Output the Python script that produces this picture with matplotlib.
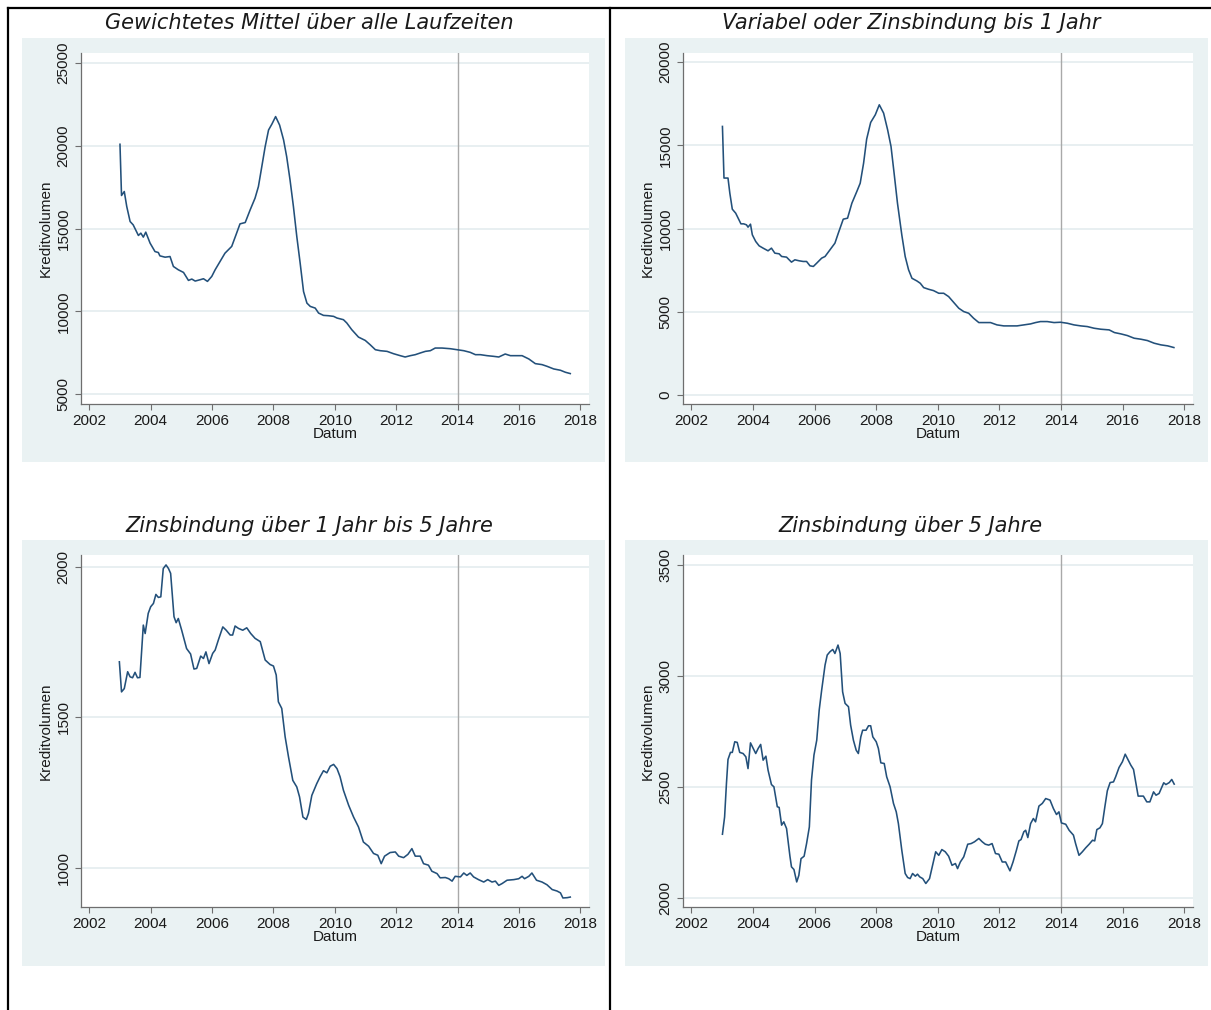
import matplotlib
matplotlib.use("Agg")
import matplotlib.pyplot as plt
from matplotlib.patches import Rectangle
from matplotlib.lines import Line2D

# ---------------------------------------------------------------------------
# Kreditvolumen (Neugeschäft) nach Zinsbindung, monatlich 2003-2017
# ---------------------------------------------------------------------------
titles = [
    "Gewichtetes Mittel über alle Laufzeiten",
    "Variabel oder Zinsbindung bis 1 Jahr",
    "Zinsbindung über 1 Jahr bis 5 Jahre",
    "Zinsbindung über 5 Jahre",
]
x_ticks = [2002, 2004, 2006, 2008, 2010, 2012, 2014, 2016, 2018]
x_label = "Datum"
y_label = "Kreditvolumen"
marker_year = 2014

# Gewichtetes Mittel über alle Laufzeiten
dates_all = [
    2003.00, 2003.05, 2003.14, 2003.22, 2003.33, 2003.43, 2003.60, 2003.68, 2003.76, 2003.84,
    2003.98, 2004.14, 2004.25, 2004.30, 2004.47, 2004.63, 2004.74, 2004.90, 2005.07, 2005.23,
    2005.34, 2005.45, 2005.61, 2005.72, 2005.85, 2005.99, 2006.10, 2006.26, 2006.42, 2006.64,
    2006.78, 2006.91, 2007.08, 2007.24, 2007.40, 2007.51, 2007.62, 2007.73, 2007.84, 2007.95,
    2008.07, 2008.20, 2008.33, 2008.43, 2008.54, 2008.65, 2008.76, 2008.87, 2008.98, 2009.09,
    2009.20, 2009.36, 2009.47, 2009.63, 2009.79, 2009.96, 2010.07, 2010.28, 2010.39, 2010.55,
    2010.77, 2010.99, 2011.15, 2011.32, 2011.48, 2011.70, 2011.91, 2012.13, 2012.29, 2012.46,
    2012.62, 2012.78, 2012.95, 2013.11, 2013.27, 2013.49, 2013.76, 2013.98, 2014.20, 2014.41,
    2014.58, 2014.74, 2014.96, 2015.17, 2015.34, 2015.55, 2015.72, 2015.93, 2016.10, 2016.32,
    2016.53, 2016.75, 2016.91, 2017.13, 2017.35, 2017.51, 2017.67,
]
volume_all = [
    20080, 16990, 17230, 16330, 15420, 15220, 14580, 14720, 14480, 14780,
    14120, 13610, 13550, 13350, 13270, 13310, 12710, 12510, 12350, 11870,
    11950, 11830, 11910, 11970, 11810, 12110, 12510, 13010, 13510, 13920,
    14620, 15280, 15360, 16120, 16830, 17530, 18730, 19940, 20940, 21300,
    21750, 21240, 20340, 19340, 17930, 16330, 14520, 12910, 11200, 10500,
    10300, 10200, 9900, 9760, 9740, 9700, 9600, 9500, 9300, 8900,
    8450, 8250, 7990, 7690, 7630, 7590, 7450, 7330, 7250, 7330,
    7390, 7490, 7590, 7630, 7790, 7790, 7750, 7690, 7630, 7530,
    7390, 7390, 7330, 7290, 7250, 7430, 7330, 7330, 7330, 7130,
    6850, 6790, 6690, 6530, 6450, 6330, 6250,
]

# Variabel oder Zinsbindung bis 1 Jahr
dates_short = [
    2003.01, 2003.06, 2003.19, 2003.25, 2003.33, 2003.44, 2003.52, 2003.61, 2003.70, 2003.79,
    2003.84, 2003.92, 2003.98, 2004.09, 2004.20, 2004.33, 2004.49, 2004.60, 2004.71, 2004.85,
    2004.93, 2005.09, 2005.25, 2005.36, 2005.50, 2005.63, 2005.74, 2005.85, 2005.96, 2006.07,
    2006.23, 2006.34, 2006.50, 2006.66, 2006.77, 2006.93, 2007.07, 2007.21, 2007.37, 2007.48,
    2007.59, 2007.69, 2007.82, 2007.97, 2008.10, 2008.24, 2008.37, 2008.48, 2008.58, 2008.69,
    2008.83, 2008.94, 2009.05, 2009.16, 2009.32, 2009.43, 2009.54, 2009.70, 2009.86, 2010.03,
    2010.19, 2010.35, 2010.51, 2010.68, 2010.84, 2011.00, 2011.16, 2011.33, 2011.54, 2011.71,
    2011.92, 2012.14, 2012.36, 2012.57, 2012.79, 2013.01, 2013.17, 2013.33, 2013.55, 2013.77,
    2013.98, 2014.20, 2014.42, 2014.64, 2014.85, 2015.07, 2015.29, 2015.56, 2015.73, 2015.94,
    2016.15, 2016.37, 2016.59, 2016.80, 2017.02, 2017.24, 2017.46, 2017.66,
]
volume_short = [
    16130, 13030, 13030, 12120, 11160, 10920, 10620, 10280, 10280, 10220,
    10080, 10260, 9620, 9220, 8960, 8820, 8660, 8820, 8520, 8480,
    8320, 8280, 7980, 8120, 8060, 8020, 8020, 7760, 7720, 7920,
    8220, 8320, 8720, 9120, 9720, 10560, 10620, 11520, 12220, 12720,
    13920, 15370, 16370, 16830, 17430, 16930, 15930, 14930, 13330, 11520,
    9620, 8320, 7520, 7010, 6850, 6710, 6450, 6350, 6270, 6110,
    6110, 5910, 5570, 5210, 5010, 4910, 4610, 4350, 4350, 4350,
    4210, 4150, 4150, 4150, 4210, 4270, 4350, 4410, 4410, 4350,
    4370, 4310, 4210, 4150, 4110, 4010, 3950, 3910, 3750, 3670,
    3570, 3410, 3350, 3270, 3110, 3010, 2950, 2850,
]

# Zinsbindung über 1 Jahr bis 5 Jahre
dates_mid = [
    2002.98, 2003.05, 2003.14, 2003.25, 2003.33, 2003.41, 2003.49, 2003.57, 2003.65, 2003.76,
    2003.82, 2003.92, 2004.00, 2004.09, 2004.17, 2004.25, 2004.33, 2004.41, 2004.50, 2004.58,
    2004.65, 2004.76, 2004.83, 2004.90, 2005.01, 2005.17, 2005.30, 2005.41, 2005.50, 2005.63,
    2005.72, 2005.80, 2005.90, 2006.02, 2006.10, 2006.21, 2006.35, 2006.46, 2006.59, 2006.67,
    2006.75, 2006.86, 2007.00, 2007.13, 2007.26, 2007.40, 2007.57, 2007.73, 2007.89, 2008.00,
    2008.09, 2008.16, 2008.27, 2008.38, 2008.49, 2008.63, 2008.76, 2008.85, 2008.96, 2009.07,
    2009.14, 2009.25, 2009.41, 2009.52, 2009.63, 2009.74, 2009.85, 2009.96, 2010.07, 2010.17,
    2010.28, 2010.45, 2010.61, 2010.77, 2010.93, 2011.10, 2011.26, 2011.40, 2011.51, 2011.62,
    2011.80, 2011.97, 2012.08, 2012.24, 2012.38, 2012.51, 2012.62, 2012.78, 2012.89, 2013.05,
    2013.16, 2013.33, 2013.43, 2013.60, 2013.71, 2013.82, 2013.92, 2014.09, 2014.20, 2014.30,
    2014.41, 2014.52, 2014.68, 2014.85, 2014.98, 2015.12, 2015.23, 2015.34, 2015.45, 2015.61,
    2015.83, 2015.99, 2016.10, 2016.18, 2016.32, 2016.42, 2016.57, 2016.75, 2016.91, 2017.08,
    2017.24, 2017.35, 2017.43, 2017.57, 2017.67,
]
volume_mid = [
    1684, 1584, 1595, 1651, 1634, 1631, 1649, 1631, 1632, 1806,
    1778, 1845, 1867, 1878, 1908, 1898, 1900, 1994, 2006, 1994,
    1978, 1834, 1814, 1828, 1789, 1728, 1710, 1660, 1662, 1703,
    1695, 1717, 1678, 1712, 1723, 1758, 1800, 1789, 1773, 1773,
    1803, 1795, 1789, 1797, 1778, 1762, 1751, 1690, 1675, 1670,
    1640, 1551, 1529, 1435, 1368, 1290, 1268, 1235, 1168, 1160,
    1180, 1240, 1279, 1302, 1322, 1315, 1337, 1343, 1329, 1302,
    1257, 1207, 1168, 1135, 1085, 1071, 1047, 1041, 1013, 1038,
    1050, 1052, 1038, 1033, 1044, 1063, 1038, 1038, 1013, 1008,
    988, 980, 966, 967, 963, 955, 971, 969, 982, 974,
    982, 969, 960, 952, 960, 952, 955, 941, 947, 958,
    960, 963, 971, 963, 971, 982, 958, 952, 943, 927,
    922, 916, 899, 900, 902,
]

# Zinsbindung über 5 Jahre
dates_long = [
    2003.01, 2003.08, 2003.14, 2003.19, 2003.27, 2003.33, 2003.41, 2003.49, 2003.57, 2003.68,
    2003.77, 2003.84, 2003.92, 2004.01, 2004.09, 2004.17, 2004.25, 2004.33, 2004.42, 2004.49,
    2004.60, 2004.68, 2004.79, 2004.85, 2004.93, 2005.00, 2005.09, 2005.15, 2005.20, 2005.25,
    2005.33, 2005.42, 2005.49, 2005.56, 2005.66, 2005.74, 2005.83, 2005.90, 2005.98, 2006.07,
    2006.15, 2006.23, 2006.34, 2006.41, 2006.50, 2006.59, 2006.66, 2006.72, 2006.76, 2006.83,
    2006.91, 2006.99, 2007.10, 2007.17, 2007.26, 2007.35, 2007.42, 2007.50, 2007.56, 2007.67,
    2007.75, 2007.82, 2007.89, 2008.00, 2008.07, 2008.15, 2008.26, 2008.34, 2008.45, 2008.56,
    2008.65, 2008.72, 2008.83, 2008.94, 2009.02, 2009.10, 2009.18, 2009.27, 2009.34, 2009.41,
    2009.51, 2009.61, 2009.73, 2009.83, 2009.93, 2010.03, 2010.13, 2010.24, 2010.35, 2010.46,
    2010.57, 2010.64, 2010.73, 2010.84, 2010.97, 2011.08, 2011.19, 2011.33, 2011.44, 2011.54,
    2011.65, 2011.76, 2011.87, 2011.98, 2012.09, 2012.20, 2012.34, 2012.44, 2012.55, 2012.63,
    2012.70, 2012.79, 2012.85, 2012.92, 2013.01, 2013.10, 2013.17, 2013.28, 2013.39, 2013.50,
    2013.64, 2013.75, 2013.85, 2013.93, 2014.01, 2014.15, 2014.26, 2014.40, 2014.47, 2014.58,
    2014.69, 2014.80, 2014.91, 2015.02, 2015.09, 2015.16, 2015.26, 2015.34, 2015.42, 2015.50,
    2015.59, 2015.70, 2015.77, 2015.88, 2015.99, 2016.08, 2016.15, 2016.26, 2016.35, 2016.43,
    2016.50, 2016.67, 2016.78, 2016.88, 2017.00, 2017.08, 2017.18, 2017.33, 2017.40, 2017.51,
    2017.59, 2017.67,
]
volume_long = [
    2287, 2365, 2516, 2624, 2656, 2656, 2704, 2701, 2656, 2651,
    2636, 2583, 2699, 2674, 2651, 2674, 2692, 2621, 2639, 2576,
    2511, 2501, 2411, 2408, 2328, 2343, 2313, 2245, 2188, 2140,
    2128, 2072, 2102, 2177, 2188, 2245, 2320, 2531, 2644, 2711,
    2847, 2937, 3050, 3095, 3110, 3120, 3102, 3125, 3140, 3102,
    2929, 2877, 2862, 2779, 2711, 2666, 2651, 2726, 2756, 2756,
    2776, 2776, 2726, 2704, 2674, 2609, 2606, 2546, 2501, 2426,
    2388, 2335, 2215, 2110, 2092, 2087, 2110, 2098, 2107, 2095,
    2087, 2065, 2087, 2147, 2208, 2192, 2218, 2208, 2188, 2147,
    2155, 2132, 2162, 2185, 2242, 2245, 2253, 2268, 2253, 2242,
    2238, 2245, 2200, 2197, 2162, 2162, 2122, 2162, 2215, 2257,
    2263, 2298, 2305, 2272, 2335, 2358, 2343, 2414, 2426, 2448,
    2441, 2403, 2376, 2388, 2338, 2332, 2305, 2283, 2245, 2192,
    2208, 2226, 2242, 2260, 2257, 2308, 2316, 2335, 2411, 2483,
    2520, 2523, 2546, 2588, 2614, 2648, 2629, 2599, 2579, 2516,
    2459, 2459, 2433, 2433, 2478, 2463, 2471, 2519, 2511, 2520,
    2534, 2513,
]

y_ticks = [
    [5000, 10000, 15000, 20000, 25000],
    [0, 5000, 10000, 15000, 20000],
    [1000, 1500, 2000],
    [2000, 2500, 3000, 3500],
]
y_limits = [(4415, 25585), (-541, 20541), (869, 2039), (1959, 3546)]
x_limits = (2001.73, 2018.28)

# ---------------------------------------------------------------------------
# Styling (Stata s2color look)
# ---------------------------------------------------------------------------
W, H, DPI = 1211, 1010, 100
REGION = "#eaf2f3"
LINE = "#23507a"
GRID = "#e6eef0"
AXIS = "#6e6e6e"
TEXT = "#1a1a1a"
TICK_FONT = ["Liberation Sans", "DejaVu Sans"]
TITLE_FONT = ["DejaVu Sans"]
TICK_SIZE = 11

fig = plt.figure(figsize=(W / DPI, H / DPI), dpi=DPI, facecolor="white")


def rect(x0, y0, x1, y1):
    """Pixel box (top-left origin) -> figure fraction [left, bottom, w, h]."""
    return [x0 / W, 1 - y1 / H, (x1 - x0) / W, (y1 - y0) / H]


# cell layout: (graph region box, plot region box, title centre x, title centre y)
cells = [
    ((22, 38, 605, 462), (81, 53, 589, 404), 309, 23),
    ((625, 38, 1208, 462), (683, 53, 1193, 404), 911, 23),
    ((22, 540, 605, 966), (81, 555, 589, 907), 309, 526),
    ((625, 540, 1208, 966), (683, 555, 1193, 907), 911, 526),
]
series = [
    (dates_all, volume_all),
    (dates_short, volume_short),
    (dates_mid, volume_mid),
    (dates_long, volume_long),
]

for i, ((gbox, pbox, tx, ty), (dates, vals)) in enumerate(zip(cells, series)):
    gx0, gy0, gx1, gy1 = gbox
    fig.patches.append(Rectangle((gx0 / W, 1 - gy1 / H), (gx1 - gx0) / W, (gy1 - gy0) / H,
                                 transform=fig.transFigure, facecolor=REGION,
                                 edgecolor="none", zorder=0))
    fig.text(tx / W, 1 - ty / H, titles[i], ha="center", va="center",
             fontsize=15, style="italic", family=TITLE_FONT, color=TEXT)

    ax = fig.add_axes(rect(*pbox), facecolor="white")
    ax.set_zorder(2)
    ax.set_xlim(*x_limits)
    ax.set_ylim(*y_limits[i])

    for yv in y_ticks[i]:
        ax.axhline(yv, color=GRID, lw=1.3, zorder=1)
    ax.axvline(marker_year, color="#a9a9a9", lw=1.0, zorder=2)
    ax.plot(dates, vals, color=LINE, lw=1.15, zorder=3, solid_joinstyle="round")

    for side in ("top", "right"):
        ax.spines[side].set_visible(False)
    for side in ("left", "bottom"):
        ax.spines[side].set_color(AXIS)
        ax.spines[side].set_linewidth(0.9)

    ax.set_xticks(x_ticks)
    ax.set_xticklabels([str(t) for t in x_ticks], family=TICK_FONT, fontsize=TICK_SIZE, color=TEXT)
    ax.set_yticks(y_ticks[i])
    ax.set_yticklabels([str(t) for t in y_ticks[i]], family=TICK_FONT, fontsize=TICK_SIZE,
                       color=TEXT, rotation=90, va="center")
    ax.tick_params(axis="both", direction="out", length=4.5, width=0.8, color=AXIS)
    ax.tick_params(axis="y", pad=3)
    ax.tick_params(axis="x", pad=3)

    ax.set_xlabel(x_label, family=TICK_FONT, fontsize=TICK_SIZE, color=TEXT, labelpad=-1)
    ax.set_ylabel(y_label, family=TICK_FONT, fontsize=TICK_SIZE, color=TEXT, labelpad=3)

# outer frame lines of the table layout
frame = dict(color="black", lw=1.6, transform=fig.transFigure, zorder=5)
fig.lines.append(Line2D([8 / W, 8 / W], [1 - 8 / H, 0], **frame))
fig.lines.append(Line2D([610 / W, 610 / W], [1 - 8 / H, 0], **frame))
fig.lines.append(Line2D([8 / W, 1], [1 - 8 / H, 1 - 8 / H], **frame))

fig.savefig("out.png", dpi=DPI, facecolor="white")
